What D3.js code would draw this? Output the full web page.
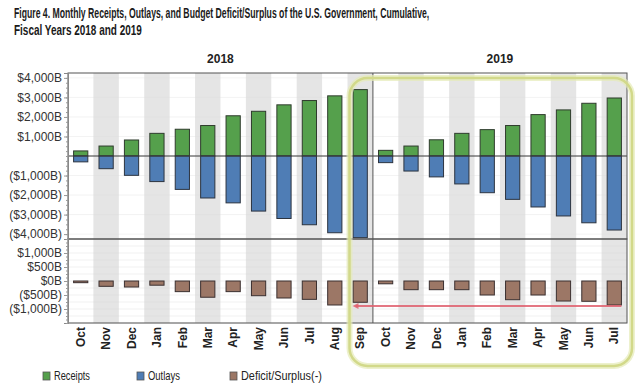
<!DOCTYPE html>
<html>
<head>
<meta charset="utf-8">
<script src="https://cdn.jsdelivr.net/npm/d3@7"></script>
<style>
  body { margin: 0; background: #fff; }
  svg { display: block; }
</style>
</head>
<body>
<svg id="chart" width="640" height="390"></svg>
<script>
// data (billions, cumulative)
let months = ["Oct","Nov","Dec","Jan","Feb","Mar","Apr","May","Jun","Jul","Aug","Sep"];
let months2019 = ["Oct","Nov","Dec","Jan","Feb","Mar","Apr","May","Jun","Jul"];
let receipts2018 = [260, 510, 820, 1160, 1370, 1560, 2060, 2290, 2620, 2840, 3080, 3400];
let outlays2018 = [300, 650, 990, 1310, 1710, 2150, 2400, 2820, 3200, 3520, 3930, 4180];
let deficit2018 = [60, 190, 215, 150, 380, 580, 380, 525, 607, 655, 857, 760];
let receipts2019 = [290, 510, 830, 1160, 1350, 1560, 2120, 2360, 2700, 2970];
let outlays2019 = [340, 770, 1070, 1430, 1880, 2220, 2610, 3070, 3420, 3790];
let deficit2019 = [100, 310, 310, 310, 500, 668, 500, 715, 725, 857];
let topTicks = [4000, 3000, 2000, 1000, -1000, -2000, -3000, -4000];
let bottomTicks = [1000, 500, 0, -500, -1000];

let greenColor = "#55a04c";
let blueColor = "#4f7db5";
let brownColor = "#9c7766";
let lineColor = "#3a3a3a";
let stripeColor = "#e5e5e5";

let svg = d3.select("#chart");

// combine into one row per column
let rows = [];
months.forEach((m, i) => rows.push({key: "2018-" + m, month: m, receipts: receipts2018[i], outlays: outlays2018[i], deficit: deficit2018[i]}));
months2019.forEach((m, i) => rows.push({key: "2019-" + m, month: m, receipts: receipts2019[i], outlays: outlays2019[i], deficit: deficit2019[i]}));

let left = 68, right = 627;
let topY = 73, midY = 239, bottomY = 323;

let x = d3.scaleBand()
  .domain(rows.map(d => d.key))
  .range([left, right])
  .padding(0);
let barW = x.bandwidth() * 0.56;

let yTop = d3.scaleLinear().domain([-4250, 4250]).range([midY, topY]);
let yBot = d3.scaleLinear().domain([-1500, 1500]).range([bottomY, midY]);

let font = "'Liberation Sans', Arial, sans-serif";

// text squeezed horizontally to a given width (the source uses a condensed face)
function condensedText(px, py, str, width, size, weight) {
  let t = svg.append("text")
    .attr("x", 0).attr("y", 0)
    .style("font-family", font).style("font-weight", weight).style("font-size", size + "px")
    .style("fill", "#1a1a1a")
    .text(str);
  let natural = t.node().getComputedTextLength();
  t.attr("transform", "translate(" + px + "," + py + ") scale(" + (width / natural) + ",1)");
  return t;
}

// title
condensedText(14, 18, "Figure 4. Monthly Receipts, Outlays, and Budget Deficit/Surplus of the U.S. Government, Cumulative,", 416, 14, "bold");
condensedText(14, 35, "Fiscal Years 2018 and 2019", 128, 14, "bold");

// year headers
["2018", "2019"].forEach(function(yr) {
  let keys = rows.filter(d => d.key.startsWith(yr)).map(d => d.key);
  let cx = (x(keys[0]) + x(keys[keys.length - 1]) + x.bandwidth()) / 2;
  svg.append("text")
    .attr("x", cx).attr("y", 63)
    .style("text-anchor", "middle")
    .style("font-family", font).style("font-weight", "bold").style("font-size", "12px")
    .style("fill", "#222")
    .text(yr);
});

// alternating column stripes
svg.selectAll(".stripe")
  .data(rows.filter((d, i) => i % 2 === 1))
  .enter()
  .append("rect")
  .attr("x", d => x(d.key))
  .attr("y", topY)
  .attr("width", x.bandwidth())
  .attr("height", bottomY - topY)
  .style("fill", stripeColor);

// faint gridlines
svg.selectAll(".gridTop")
  .data(d3.range(-4000, 4001, 1000))
  .enter()
  .append("line")
  .attr("x1", left).attr("x2", right)
  .attr("y1", d => yTop(d)).attr("y2", d => yTop(d))
  .style("stroke", "#dcdcdc").style("stroke-opacity", 0.35);
svg.selectAll(".gridBot")
  .data(d3.range(-1500, 1501, 250))
  .enter()
  .append("line")
  .attr("x1", left).attr("x2", right)
  .attr("y1", d => yBot(d)).attr("y2", d => yBot(d))
  .style("stroke", "#d8d8d8").style("stroke-opacity", 0.35);

// receipts bars
svg.selectAll(".receipts")
  .data(rows)
  .enter()
  .append("rect")
  .attr("x", d => x(d.key) + (x.bandwidth() - barW) / 2)
  .attr("y", d => yTop(d.receipts))
  .attr("width", barW)
  .attr("height", d => yTop(0) - yTop(d.receipts))
  .style("fill", greenColor)
  .style("stroke", "#2f3b2d").style("stroke-width", 1);

// outlays bars
svg.selectAll(".outlays")
  .data(rows)
  .enter()
  .append("rect")
  .attr("x", d => x(d.key) + (x.bandwidth() - barW) / 2)
  .attr("y", yTop(0))
  .attr("width", barW)
  .attr("height", d => yTop(-d.outlays) - yTop(0))
  .style("fill", blueColor)
  .style("stroke", "#2c3440").style("stroke-width", 1);

// deficit bars
svg.selectAll(".deficit")
  .data(rows)
  .enter()
  .append("rect")
  .attr("x", d => x(d.key) + (x.bandwidth() - barW) / 2)
  .attr("y", yBot(0))
  .attr("width", barW)
  .attr("height", d => Math.max(1.5, yBot(-d.deficit) - yBot(0)))
  .style("fill", brownColor)
  .style("stroke", "#3b3030").style("stroke-width", 1);

// zero line in top panel
svg.append("line")
  .attr("x1", left).attr("x2", right)
  .attr("y1", yTop(0)).attr("y2", yTop(0))
  .style("stroke", lineColor).style("stroke-width", 1);

// panel borders
svg.append("rect")
  .attr("x", left).attr("y", topY)
  .attr("width", right - left).attr("height", midY - topY)
  .style("fill", "none").style("stroke", "#555").style("stroke-width", 1);
svg.append("rect")
  .attr("x", left).attr("y", midY)
  .attr("width", right - left).attr("height", bottomY - midY)
  .style("fill", "none").style("stroke", "#555").style("stroke-width", 1);

// year separator
let sepX = x("2019-Oct");
svg.append("line")
  .attr("x1", sepX).attr("x2", sepX)
  .attr("y1", topY).attr("y2", bottomY)
  .style("stroke", "#555").style("stroke-width", 1);

// y axes
function fmt(v) {
  let s = "$" + d3.format(",")(Math.abs(v)) + "B";
  return v < 0 ? "(" + s + ")" : s;
}

let axTop = svg.append("g")
  .attr("transform", "translate(" + left + ",0)")
  .call(d3.axisLeft(yTop).tickValues(topTicks).tickFormat(fmt).tickSize(4).tickPadding(2));
let axTopMinor = svg.append("g")
  .attr("transform", "translate(" + left + ",0)")
  .call(d3.axisLeft(yTop).tickValues(d3.range(-4000, 4001, 250)).tickFormat("").tickSize(2));
let axBot = svg.append("g")
  .attr("transform", "translate(" + left + ",0)")
  .call(d3.axisLeft(yBot).tickValues(bottomTicks).tickFormat(fmt).tickSize(4).tickPadding(2));
let axBotMinor = svg.append("g")
  .attr("transform", "translate(" + left + ",0)")
  .call(d3.axisLeft(yBot).tickValues(d3.range(-1500, 1501, 125)).tickFormat("").tickSize(2));

[axTop, axTopMinor, axBot, axBotMinor].forEach(function(g) {
  g.select(".domain").style("stroke", "#888");
  g.selectAll(".tick line").style("stroke", "#999");
  g.selectAll("text")
    .style("font-family", font).style("font-size", "12px").style("fill", "#333");
});

// month labels
svg.selectAll(".monthLabel")
  .data(rows)
  .enter()
  .append("text")
  .attr("transform", d => "translate(" + (x(d.key) + x.bandwidth() / 2) + "," + 327 + ") rotate(-90)")
  .attr("dy", "0.35em")
  .style("text-anchor", "end")
  .style("font-family", font).style("font-weight", "bold").style("font-size", "12px")
  .style("fill", "#222")
  .text(d => d.month);

// legend
let legendItems = [["Receipts", greenColor, 43, 36], ["Outlays", blueColor, 137, 32], ["Deficit/Surplus(-)", brownColor, 230, 81]];
legendItems.forEach(function(it) {
  svg.append("rect")
    .attr("x", it[2]).attr("y", 372)
    .attr("width", 7).attr("height", 8)
    .style("fill", it[1]).style("stroke", "#555").style("stroke-width", 0.8);
  condensedText(it[2] + 11, 380, it[0], it[3], 12, "normal").style("fill", "#222");
});

// highlight box around Sep 2018 - Jul 2019
let hx0 = x("2018-Sep") + 2, hx1 = right + 5;
let glow = svg.append("g");
glow.append("rect")
  .attr("x", hx0).attr("y", 78)
  .attr("width", hx1 - hx0).attr("height", 288)
  .attr("rx", 18).attr("ry", 18)
  .style("fill", "none").style("stroke", "#e6ebb8").style("stroke-width", 6).style("opacity", 0.7);
glow.append("rect")
  .attr("x", hx0).attr("y", 78)
  .attr("width", hx1 - hx0).attr("height", 288)
  .attr("rx", 18).attr("ry", 18)
  .style("fill", "none").style("stroke", "#d2d98a").style("stroke-width", 2.5);

// red arrow along deficit level
let arrowY = yBot(-857);
svg.append("line")
  .attr("x1", x("2019-Jul") + x.bandwidth() / 2 + barW / 2).attr("x2", x("2018-Sep") + 8)
  .attr("y1", arrowY + 1).attr("y2", arrowY + 1)
  .style("stroke", "#e0606e").style("stroke-width", 2).style("opacity", 0.85);
svg.append("path")
  .attr("d", d3.line()([[x("2018-Sep") + 5, arrowY + 1], [x("2018-Sep") + 11, arrowY - 2], [x("2018-Sep") + 11, arrowY + 4]]))
  .style("fill", "#e0606e").style("opacity", 0.85);
</script>
</body>
</html>
